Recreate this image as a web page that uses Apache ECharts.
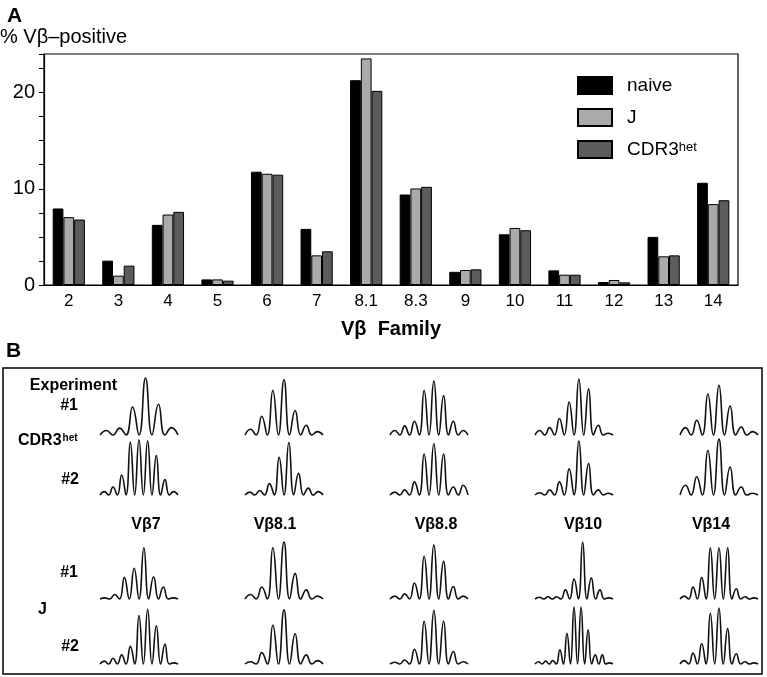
<!DOCTYPE html>
<html>
<head>
<meta charset="utf-8">
<script src="https://cdn.jsdelivr.net/npm/echarts@6/dist/echarts.min.js"></script>
<style>
html,body{margin:0;padding:0;background:#fff;}
#chart{width:767px;height:677px;}
</style>
</head>
<body>
<div id="chart"></div>
<script>
// ---------- Panel A data ----------
const categories = ['2','3','4','5','6','7','8.1','8.3','9','10','11','12','13','14'];
const naive = [7.95, 2.53, 6.25, 0.58, 11.77, 5.83, 21.28, 9.4, 1.37, 5.27, 1.52, 0.31, 5.0, 10.62];
const jVals = [7.05, 0.97, 7.32, 0.58, 11.56, 3.08, 23.54, 10.03, 1.56, 5.93, 1.07, 0.52, 2.98, 8.4];
const cdr3Vals = [6.8, 2.01, 7.6, 0.45, 11.46, 3.5, 20.17, 10.2, 1.63, 5.69, 1.07, 0.28, 3.08, 8.81];
const yLabelValues = [0, 10, 20];

// ---------- Panel B data (peak heights, % of row maximum) ----------
const columnLabels = ['Vβ7', 'Vβ8.1', 'Vβ8.8', 'Vβ10', 'Vβ14'];
const cdr3Exp1 = [
  [8, 12, 49, 100, 54, 13],
  [10, 33, 78, 97, 43, 17, 6],
  [8, 16, 24, 78, 95, 69, 24, 8],
  [8, 13, 29, 58, 98, 81, 17, 3],
  [13, 26, 72, 87, 51, 14, 6]
];
const cdr3Exp2 = [
  [6, 14, 35, 93, 97, 95, 69, 27, 6],
  [5, 8, 20, 66, 92, 38, 12, 6],
  [5, 9, 23, 72, 90, 72, 14, 17],
  [4, 9, 23, 46, 95, 55, 9, 3],
  [17, 32, 78, 98, 49, 14, 3]
];
const jExp1 = [
  [2, 8, 38, 54, 90, 39, 21, 2],
  [8, 21, 90, 100, 45, 16, 5],
  [5, 9, 28, 75, 95, 66, 22, 5],
  [3, 4, 4, 16, 35, 100, 37, 16, 2],
  [5, 21, 38, 90, 90, 90, 18, 4, 2]
];
const jExp2 = [
  [5, 10, 16, 31, 85, 96, 67, 35, 2],
  [4, 20, 68, 95, 53, 16, 6],
  [3, 7, 26, 75, 94, 75, 22, 4],
  [4, 5, 6, 25, 54, 100, 100, 60, 16, 16, 2],
  [6, 19, 36, 89, 98, 62, 18, 4, 2]
];
const spectraRows = [cdr3Exp1, cdr3Exp2, jExp1, jExp2];

// ---------- layout ----------
const FONT = '"Liberation Sans", Arial, Helvetica, sans-serif';
const rowBaselines = [435, 495, 599, 664];
const rowHeight = 57;
const colLefts = [100, 245, 390, 535, 680];
const colWidth = 78;

const grids = [{left: 44, top: 54, width: 694, height: 231, show: true, borderColor: '#000', borderWidth: 1.2, backgroundColor: 'transparent'}];
const xAxes = [{
  type: 'category', data: categories, gridIndex: 0,
  axisLine: {lineStyle: {color: '#000', width: 1.2}},
  axisTick: {show: false},
  axisLabel: {color: '#000', fontSize: 17, fontFamily: FONT, margin: 8},
  name: 'Vβ  Family', nameLocation: 'middle', nameGap: 34,
  nameTextStyle: {color: '#000', fontSize: 20, fontWeight: 'bold', fontFamily: FONT}
}];
const yAxes = [{
  type: 'value', gridIndex: 0, min: 0, max: 24, interval: 2.5,
  axisLine: {show: true, lineStyle: {color: '#000', width: 1.2}},
  axisTick: {show: true, inside: false, length: 5, lineStyle: {color: '#000'}},
  splitLine: {show: false},
  axisLabel: {color: '#000', fontSize: 20, fontFamily: FONT, margin: 9,
    formatter: v => yLabelValues.indexOf(v) >= 0 ? String(v) : ''}
}];

const series = [
  {name: 'naive', type: 'bar', data: naive, barGap: '0%', barCategoryGap: '35%',
   itemStyle: {color: '#000', borderColor: '#000', borderWidth: 1}},
  {name: 'J', type: 'bar', data: jVals, barGap: '0%', barCategoryGap: '35%',
   itemStyle: {color: '#aaaaaa', borderColor: '#000', borderWidth: 1}},
  {name: 'CDR3het', type: 'bar', data: cdr3Vals, barGap: '0%', barCategoryGap: '35%',
   itemStyle: {color: '#5c5c5c', borderColor: '#000', borderWidth: 1}}
];

spectraRows.forEach((row, r) => {
  row.forEach((peaks, c) => {
    const idx = grids.length;
    grids.push({left: colLefts[c], top: rowBaselines[r] - rowHeight, width: colWidth, height: rowHeight * 1.05});
    const pts = [0];
    peaks.forEach(p => { pts.push(p); pts.push(0); });
    xAxes.push({type: 'value', gridIndex: idx, min: 0, max: pts.length - 1, show: false});
    yAxes.push({type: 'value', gridIndex: idx, min: -5, max: 100, show: false});
    series.push({
      type: 'line', xAxisIndex: idx, yAxisIndex: idx, smooth: 0.5, symbol: 'none', silent: true,
      clip: false, data: pts.map((v, k) => [k, v]),
      lineStyle: {color: '#111', width: 1.6}
    });
  });
});

const boldText = (x, y, text, align, size) => ({
  type: 'text', x: x, y: y,
  style: {text: text, fill: '#000', font: 'bold ' + (size || 16) + 'px ' + FONT, align: align || 'left', verticalAlign: 'middle'}
});

const colLabelX = [146, 275, 436, 583, 711];
const graphics = [
  boldText(7, 16, 'A', 'left', 21),
  {type: 'text', x: 0, y: 37, style: {text: '% Vβ–positive', fill: '#000', font: '20px ' + FONT, align: 'left', verticalAlign: 'middle'}},
  boldText(6, 351, 'B', 'left', 21),
  {type: 'rect', shape: {x: 3, y: 368, width: 759, height: 306}, style: {fill: 'none', stroke: '#000', lineWidth: 1.5}},
  boldText(117, 386, 'Experiment', 'right', 16),
  boldText(78, 406, '#1', 'right', 16),
  {type: 'text', x: 18, y: 441, style: {
    text: '{a|CDR3}{b|het}', fill: '#000', verticalAlign: 'middle',
    rich: {a: {font: 'bold 16px ' + FONT, fill: '#000'}, b: {font: 'bold 10px ' + FONT, fill: '#000', verticalAlign: 'top', padding: [0, 0, 4, 1]}}
  }},
  boldText(79, 480, '#2', 'right', 16),
  boldText(78, 573, '#1', 'right', 16),
  boldText(38, 610, 'J', 'left', 16),
  boldText(79, 647, '#2', 'right', 16)
];
columnLabels.forEach((t, i) => graphics.push(boldText(colLabelX[i], 525, t, 'center', 16)));

const chart = echarts.init(document.getElementById('chart'), null, {renderer: 'canvas'});
chart.setOption({
  animation: false,
  backgroundColor: '#fff',
  textStyle: {fontFamily: FONT},
  grid: grids,
  xAxis: xAxes,
  yAxis: yAxes,
  legend: {
    data: ['naive', 'J', 'CDR3het'],
    orient: 'vertical', left: 577, top: 76, padding: 0,
    icon: 'rect',
    itemWidth: 34, itemHeight: 17, itemGap: 13,
    selectedMode: false,
    formatter: n => n === 'CDR3het' ? '{a|CDR3}{b|het}' : '{a|' + n + '}',
    textStyle: {color: '#000', fontSize: 19, fontFamily: FONT, padding: [0, 0, 0, 10], lineHeight: 17,
      rich: {a: {fontSize: 19, fontFamily: FONT, color: '#000', lineHeight: 17},
             b: {fontSize: 13, fontFamily: FONT, color: '#000', verticalAlign: 'top', lineHeight: 13, padding: [0, 0, 6, 0]}}}
  },
  series: series,
  graphic: graphics
});
</script>
</body>
</html>
